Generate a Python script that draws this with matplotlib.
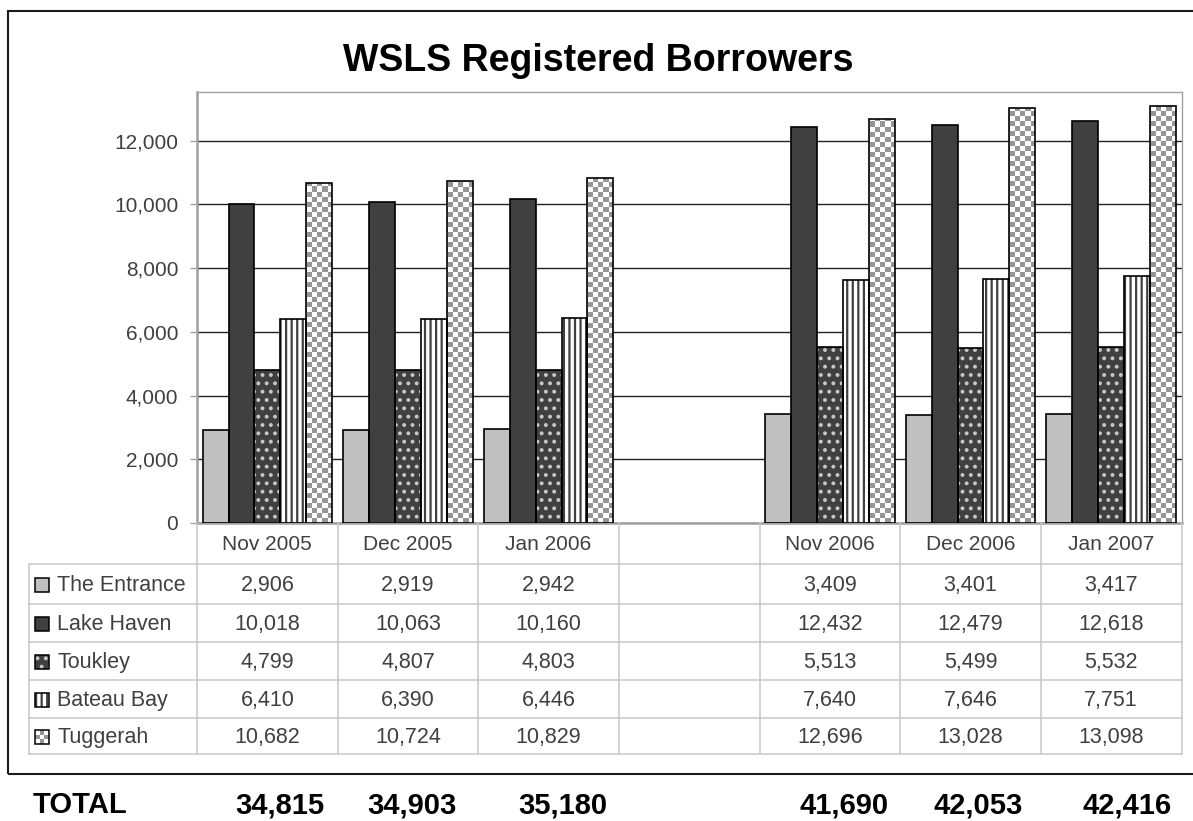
import numpy as np
import matplotlib
matplotlib.use("Agg")
import matplotlib.pyplot as plt
from matplotlib.patches import Rectangle
from matplotlib.colors import ListedColormap

plt.rcParams['font.family'] = ['Liberation Sans', 'DejaVu Sans']
plt.rcParams['hatch.linewidth'] = 1.6

# ── data ────────────────────────────────────────────────────────────────────
months = ["Nov 2005", "Dec 2005", "Jan 2006", "", "Nov 2006", "Dec 2006", "Jan 2007"]
branches = ["The Entrance", "Lake Haven", "Toukley", "Bateau Bay", "Tuggerah"]
the_entrance = [2906, 2919, 2942, np.nan, 3409, 3401, 3417]
lake_haven = [10018, 10063, 10160, np.nan, 12432, 12479, 12618]
toukley = [4799, 4807, 4803, np.nan, 5513, 5499, 5532]
bateau_bay = [6410, 6390, 6446, np.nan, 7640, 7646, 7751]
tuggerah = [10682, 10724, 10829, np.nan, 12696, 13028, 13098]
totals = ["34,815", "34,903", "35,180", "41,690", "42,053", "42,416"]
yticks = [0, 2000, 4000, 6000, 8000, 10000, 12000]

series = [the_entrance, lake_haven, toukley, bateau_bay, tuggerah]

# ── layout (pixels) ─────────────────────────────────────────────────────────
W, H = 1193, 821
AX_L, AX_R, AX_T, AX_B = 197, 1181.5, 92, 523
ROWS = [564, 604, 642, 680, 718, 754]
LAB_L = 29
SLOT = (AX_R - AX_L) / len(months)
TXT = '#404040'
GRID = '#C8C8C8'

styles = [
    dict(face='#C0C0C0', hatch=None, hcol=None),
    dict(face='#404040', hatch=None, hcol=None),
    dict(face='#404040', hatch='..', hcol='#C8C8C8'),
    dict(face='white', hatch='|||', hcol='#404040'),
    dict(face='white', hatch=None, hcol=None),   # checker drawn as image
]

fig = plt.figure(figsize=(W / 100, H / 100), dpi=100)

# outer chart frame
fig.patches.append(Rectangle((8 / W, 1 - 774 / H), (1200 - 8) / W, (774 - 11) / H,
                             transform=fig.transFigure, fill=False,
                             ec='#1a1a1a', lw=1.5, clip_on=False))

ax = fig.add_axes([AX_L / W, 1 - AX_B / H, (AX_R - AX_L) / W, (AX_B - AX_T) / H])
ymax = 13530
xlim = (-0.5, len(months) - 0.5)

# checkerboard for Tuggerah (cells ~5 px)
nc, nr = int((AX_R - AX_L) / 5), int((AX_B - AX_T) / 5)
checker = (np.add.outer(np.arange(nr), np.arange(nc)) % 2).astype(float)
chk_cmap = ListedColormap(['#969696', 'white'])

x = np.arange(len(months))
bw = 0.184
for k, (vals, st) in enumerate(zip(series, styles)):
    xs = x + (k - 2) * bw
    vals = np.array(vals, dtype=float)
    ok = ~np.isnan(vals)
    if st['hatch']:
        ax.bar(xs[ok], vals[ok], bw, color=st['face'], hatch=st['hatch'],
               edgecolor=st['hcol'], lw=0, zorder=2)
    else:
        ax.bar(xs[ok], vals[ok], bw, color=st['face'], lw=0, zorder=2)
    outl = ax.bar(xs[ok], vals[ok], bw, fill=False, edgecolor='black', lw=1.2, zorder=4)
    if k == 4:
        for p in outl.patches:
            im = ax.imshow(checker, cmap=chk_cmap, extent=(xlim[0], xlim[1], 0, ymax),
                           aspect='auto', interpolation='nearest', origin='upper',
                           zorder=3)
            im.set_clip_path(p)

ax.set_xlim(*xlim)
ax.set_ylim(0, ymax)
ax.set_axisbelow(True)
ax.yaxis.grid(True, color='#222222', lw=1.0)
ax.set_yticks(yticks)
ax.set_yticklabels([f"{v:,}" for v in yticks], fontsize=15, color=TXT)
ax.tick_params(axis='y', length=5, width=1, color='#A0A0A0', pad=8.5)
ax.set_xticks([])
for s in ax.spines.values():
    s.set_color('#A0A0A0')
    s.set_linewidth(1.0)
ax.spines['left'].set_linewidth(1.8)
ax.spines['bottom'].set_linewidth(1.8)

# ── data table ──────────────────────────────────────────────────────────────
tax = fig.add_axes([AX_L / W, 1 - ROWS[-1] / H, (AX_R - AX_L) / W, (ROWS[-1] - AX_B) / H])
tax.set_xlim(*xlim)
tax.set_ylim(ROWS[-1], AX_B)
tax.axis('off')

def px2x(px):
    return xlim[0] + (px - AX_L) / SLOT

x_lab = px2x(LAB_L)
for b in np.arange(xlim[0], xlim[1] + 0.01, 1.0):
    tax.plot([b, b], [AX_B, ROWS[-1]], color=GRID, lw=1.1, clip_on=False)
tax.plot([x_lab, x_lab], [ROWS[0], ROWS[-1]], color=GRID, lw=1.1, clip_on=False)
for r in ROWS:
    tax.plot([x_lab, xlim[1]], [r, r], color=GRID, lw=1.1, clip_on=False)

for i, m in enumerate(months):
    tax.text(i, (AX_B + ROWS[0]) / 2 + 1, m, ha='center', va='center',
             fontsize=15, color=TXT)

for k, (name, vals, st) in enumerate(zip(branches, series, styles)):
    yc = (ROWS[k] + ROWS[k + 1]) / 2 + 1
    tax.text(px2x(57), yc, name, ha='left', va='center', fontsize=15.5,
             color=TXT, clip_on=False)
    for i, v in enumerate(vals):
        if not np.isnan(v):
            tax.text(i, yc, f"{int(v):,}", ha='center', va='center',
                     fontsize=15.5, color=TXT)
    kx, kw = px2x(35), 14 / SLOT
    key = Rectangle((kx, yc - 7), kw, 14, facecolor=st['face'], lw=0,
                    hatch=st['hatch'], edgecolor=st['hcol'] or st['face'],
                    clip_on=False, zorder=2)
    tax.add_patch(key)
    if k == 4:
        kc = np.array([[1, 0, 1], [0, 1, 0], [1, 0, 1]], dtype=float)
        kim = tax.imshow(kc, cmap=chk_cmap, extent=(kx, kx + kw, yc + 7, yc - 7),
                         aspect='auto', interpolation='nearest', zorder=3)
        kim.set_clip_on(False)
    tax.add_patch(Rectangle((kx, yc - 7), kw, 14, fill=False, ec='black',
                            lw=1.1, clip_on=False, zorder=4))
tax.set_xlim(*xlim)
tax.set_ylim(ROWS[-1], AX_B)

# ── title and totals ────────────────────────────────────────────────────────
fig.text(598 / W, 1 - 71 / H, "WSLS Registered Borrowers", ha='center',
         va='baseline', fontsize=27, fontweight='bold', color='black')

fig.text(33 / W, 1 - 813 / H, "TOTAL", ha='left', va='baseline',
         fontsize=21, fontweight='bold')
tot_right = [324, 457, 607, 889, 1023, 1172]
for t, xr in zip(totals, tot_right):
    fig.text(xr / W, 1 - 813 / H, t, ha='right', va='baseline',
             fontsize=21, fontweight='bold')

fig.savefig('out.png', dpi=100)
